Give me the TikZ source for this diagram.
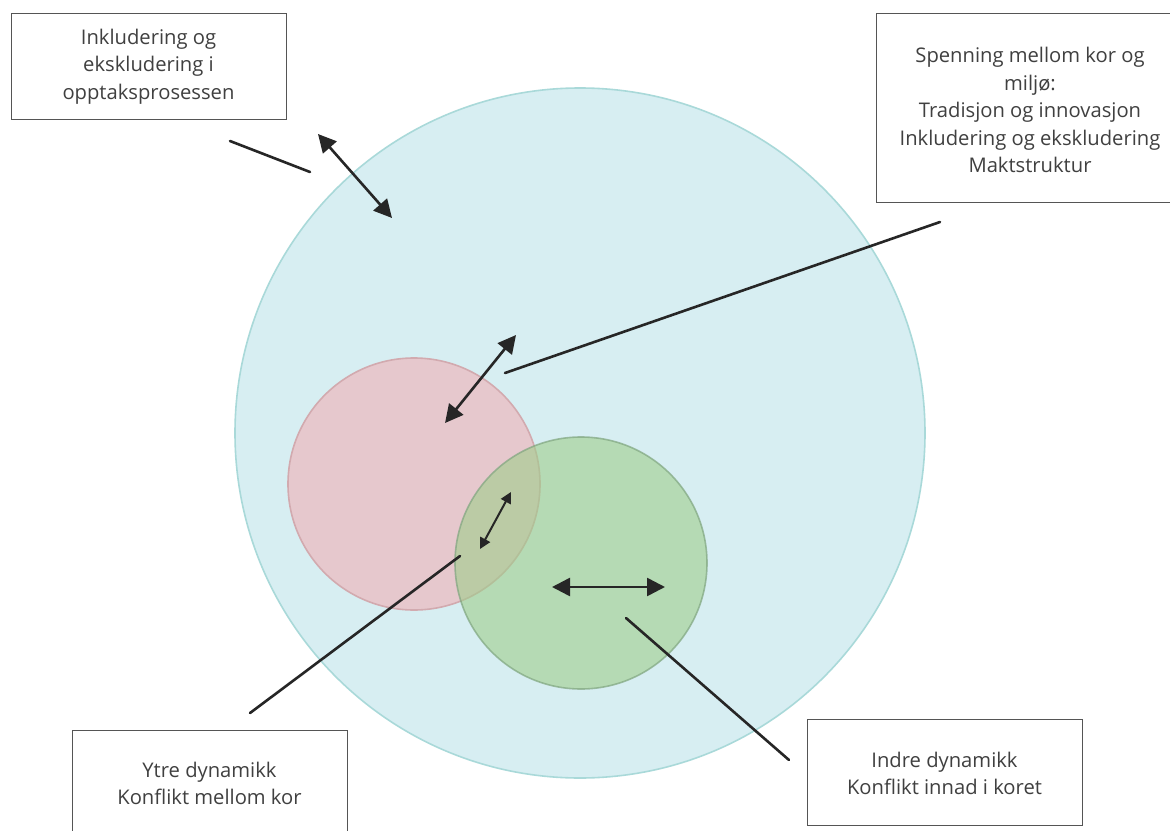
\documentclass[tikz,border=0pt]{standalone}
\usepackage{fontspec}
\setmainfont{Open Sans}
\usetikzlibrary{arrows.meta}
\definecolor{outerfill}{HTML}{D7EEF2}
\definecolor{outerdraw}{HTML}{A9D9D9}
\definecolor{redfill}{HTML}{E6C8CD}
\definecolor{reddraw}{HTML}{D2AAAF}
\definecolor{greenfill}{HTML}{9FCD8B}
\definecolor{greendraw}{HTML}{7FA57F}
\definecolor{txt}{HTML}{404040}
\definecolor{boxdraw}{HTML}{555555}
\tikzset{
  labelbox/.style={draw=boxdraw, line width=1.3pt, fill=white, inner sep=0pt, anchor=north west},
  labeltext/.style={text=txt, align=center, font=\fontsize{20.2}{27.5}\selectfont, inner sep=0pt},
  connline/.style={line width=2.6pt, draw=black!85, line cap=round},
  dblarrow/.style={line width=2.6pt, draw=black!85, {Triangle[length=18pt,width=18pt]}-{Triangle[length=18pt,width=18pt]}},
  smallarrow/.style={line width=2pt, draw=black!85, {Triangle[length=11pt,width=11pt]}-{Triangle[length=11pt,width=11pt]}}
}
\begin{document}
\begin{tikzpicture}[x=1pt,y=-1pt]
\useasboundingbox[fill=white] (0,0) rectangle (1170,830);
% circles
\node[circle, draw=outerdraw, line width=1.6pt, fill=outerfill, minimum size=690pt, inner sep=0pt] (outer) at (580,433) {};
\node[circle, draw=reddraw, line width=1.6pt, fill=redfill, minimum size=252pt, inner sep=0pt] (red) at (414,484) {};
\node[circle, draw=greendraw, draw opacity=0.7, line width=1.6pt, fill=greenfill, fill opacity=0.6, minimum size=252pt, inner sep=0pt] (green) at (581,563) {};
% boxes
\node[labelbox, minimum width=275pt, minimum height=106pt] (tl) at (11,13) {};
\node[labeltext] (tltext) at (148.5,66.5) {Inkludering og\\ekskludering i\\opptaksprosessen};
\node[labelbox, minimum width=309pt, minimum height=189pt] (tr) at (876,13) {};
\node[labeltext] (trtext) at (1030,110) {Spenning mellom kor og\\miljø:\\Tradisjon og innovasjon\\Inkludering og ekskludering\\Maktstruktur};
\node[labelbox, minimum width=275pt, minimum height=120pt] (bl) at (72,730) {};
\node[labeltext] (bltext) at (209.5,783.5) {Ytre dynamikk\\Konflikt mellom kor};
\node[labelbox, minimum width=275pt, minimum height=106pt] (br) at (807,719) {};
\node[labeltext] (brtext) at (944.5,773.5) {Indre dynamikk\\Konflikt innad i koret};
% coordinates
\coordinate (l1a) at (230,141);
\coordinate (l1b) at (310,172);
\coordinate (a1a) at (318,134);
\coordinate (a1b) at (392,218);
\coordinate (l2a) at (940,222);
\coordinate (l2b) at (505,373);
\coordinate (a2a) at (516,335);
\coordinate (a2b) at (445,423);
\coordinate (a3a) at (511,492);
\coordinate (a3b) at (480,549);
\coordinate (l3a) at (460,556);
\coordinate (l3b) at (250,713);
\coordinate (a4a) at (552,587);
\coordinate (a4b) at (665,587);
\coordinate (l4a) at (626,618);
\coordinate (l4b) at (789,760);
% connectors
\draw[connline] (l1a) -- (l1b);
\draw[dblarrow] (a1a) -- (a1b);
\draw[connline] (l2a) -- (l2b);
\draw[dblarrow] (a2a) -- (a2b);
\draw[smallarrow] (a3a) -- (a3b);
\draw[connline] (l3a) -- (l3b);
\draw[dblarrow] (a4a) -- (a4b);
\draw[connline] (l4a) -- (l4b);
\end{tikzpicture}
\end{document}
